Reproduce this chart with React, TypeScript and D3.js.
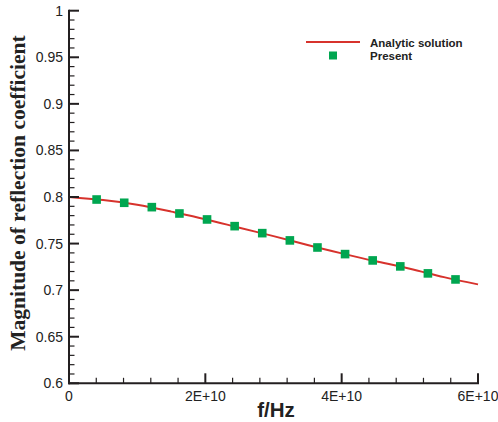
import React from "react";
import * as d3 from "d3";

// Analytic solution (x in units of 1E10 Hz)
const analyticF = [0, 0.5, 1.0, 1.5, 2.0, 2.5, 3.0, 3.5, 4.0, 4.5, 5.0, 5.5, 6.0];
const analyticMag = [0.8, 0.7967, 0.7917, 0.7843, 0.7762, 0.767, 0.758, 0.7485, 0.7395, 0.731, 0.723, 0.714, 0.7062];

// Present (markers)
const presentF = [0.405, 0.81, 1.215, 1.62, 2.025, 2.43, 2.835, 3.24, 3.645, 4.05, 4.455, 4.86, 5.265, 5.67];
const presentMag = [0.7973, 0.7938, 0.7891, 0.7823, 0.7759, 0.7687, 0.7612, 0.7534, 0.7458, 0.7387, 0.7319, 0.7255, 0.718, 0.7115];

const xTicks = [0, 2, 4, 6];
const xTickLabels = ["0", "2E+10", "4E+10", "6E+10"];
const yTicks = [0.6, 0.65, 0.7, 0.75, 0.8, 0.85, 0.9, 0.95, 1];
const yTickLabels = ["0.6", "0.65", "0.7", "0.75", "0.8", "0.85", "0.9", "0.95", "1"];

const W = 498, H = 422;
const L = 69, R = 478, T = 10.7, B = 383.3;

export default function App() {
  const x = d3.scaleLinear().domain([0, 6]).range([L, R]);
  const y = d3.scaleLinear().domain([0.6, 1]).range([B, T]);
  const line = d3
    .line<number>()
    .x((_, i) => x(analyticF[i]))
    .y((d) => y(d))
    .curve(d3.curveNatural);
  const xMinor = d3.range(0, 6.0001, 0.4).filter((v) => !xTicks.some((t) => Math.abs(t - v) < 1e-6));
  const yMinor = d3.range(0.6, 1.0001, 0.01).filter((v) => !yTicks.some((t) => Math.abs(t - v) < 1e-6));
  const sans = "'Liberation Sans', Arial, Helvetica, sans-serif";
  const axisColor = "#231f20";
  return (
    <svg width={W} height={H} style={{ position: "absolute", left: 0, top: 0 }}>
      <rect width={W} height={H} fill="#fff" />
      <path d={line(analyticMag) || ""} fill="none" stroke="#d7322c" strokeWidth={2} />
      {presentMag.map((v, i) => (
        <rect key={i} x={x(presentF[i]) - 4.3} y={y(v) - 4.3} width={8.6} height={8.6} fill="#00a650" />
      ))}
      {/* axes */}
      <line x1={L} x2={L} y1={T - 1} y2={B + 1} stroke={axisColor} strokeWidth={2} />
      <line x1={L - 1} x2={R + 1} y1={B} y2={B} stroke={axisColor} strokeWidth={2} />
      {yTicks.map((t, i) => (
        <g key={"yt" + i}>
          <line x1={L} x2={L + 10} y1={y(t)} y2={y(t)} stroke={axisColor} strokeWidth={2} />
          <text x={L - 6} y={y(t) + 5} textAnchor="end" fontFamily={sans} fontSize={14} fill="#222">
            {yTickLabels[i]}
          </text>
        </g>
      ))}
      {yMinor.map((t, i) => (
        <line key={"ym" + i} x1={L} x2={L + 5.5} y1={y(t)} y2={y(t)} stroke={axisColor} strokeWidth={1.2} />
      ))}
      {xTicks.map((t, i) => (
        <g key={"xt" + i}>
          <line x1={x(t)} x2={x(t)} y1={B} y2={B - 10} stroke={axisColor} strokeWidth={2} />
          <text x={x(t)} y={B + 18} textAnchor="middle" fontFamily={sans} fontSize={14} fill="#222">
            {xTickLabels[i]}
          </text>
        </g>
      ))}
      {xMinor.map((t, i) => (
        <line key={"xm" + i} x1={x(t)} x2={x(t)} y1={B} y2={B - 5.5} stroke={axisColor} strokeWidth={1.2} />
      ))}
      <text x={276} y={416.5} textAnchor="middle" fontFamily={sans} fontWeight="bold" fontSize={20.5} fill="#222">
        f/Hz
      </text>
      <text
        transform={`translate(25,193) rotate(-90)`}
        textAnchor="middle"
        fontFamily="'Liberation Serif', 'Times New Roman', serif"
        fontWeight="bold"
        fontSize={21.5}
        fill="#222"
      >
        Magnitude of reflection coefficient
      </text>
      {/* legend */}
      <line x1={306} x2={360} y1={42} y2={42} stroke="#d7322c" strokeWidth={2} />
      <text x={370} y={46.5} fontFamily={sans} fontWeight="bold" fontSize={11.5} fill="#222">
        Analytic solution
      </text>
      <rect x={329} y={51.5} width={8} height={8} fill="#00a650" />
      <text x={370} y={60} fontFamily={sans} fontWeight="bold" fontSize={11.5} fill="#222">
        Present
      </text>
    </svg>
  );
}
